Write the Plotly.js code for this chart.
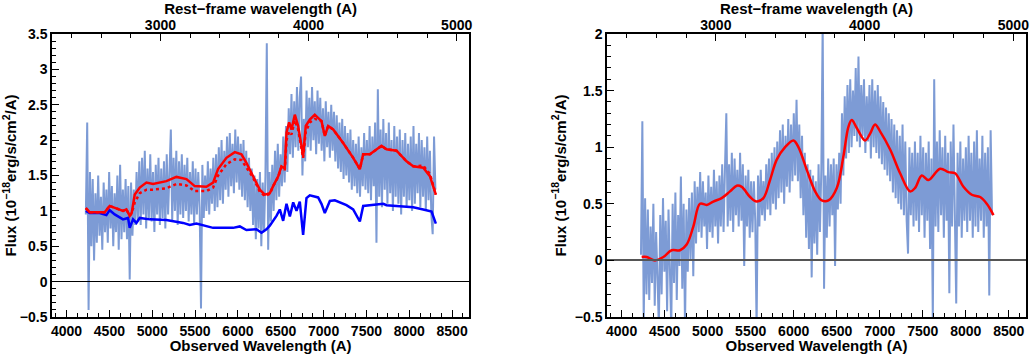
<!DOCTYPE html>
<html>
<head>
<meta charset="utf-8">
<script src="https://cdn.plot.ly/plotly-3.0.1.min.js"></script>
<style>
  html, body { margin: 0; padding: 0; background: #fff; }
  #chart { width: 1032px; height: 354px; }
</style>
</head>
<body>
<div id="chart"></div>
<script>
/* Спектр: сетка длин волн наблюдаемого спектра (A) */
var specStart = 4225;
var specStep = 16;

/* Левая панель: наблюдаемый поток (шумный спектр) */
var leftSpec = [
    0.95, 2.25, -0.40, 1.55, 0.50, 1.45, 0.30, 1.25, 0.55, 1.50,
    0.65, 1.20, 0.45, 1.40, 0.70, 1.30, 0.55, 1.55, 0.75, 1.35,
    0.50, 1.25, 0.70, 1.50, 0.45, 1.65, 0.60, 1.30, 0.70, 1.45,
    0.60, 1.35, 0.03, 1.40, 0.65, 1.30, 0.80, 1.55, 0.85, 1.70,
    0.80, 1.75, 0.95, 1.85, 0.75, 1.60, 0.90, 1.80, 0.85, 1.55,
    0.70, 1.65, 0.95, 1.75, 0.80, 1.60, 0.90, 1.70, 0.75, 1.80,
    0.95, 1.65, 2.15, 0.85, 1.75, 1.00, 1.85, 0.80, 1.70, 0.95,
    1.80, 0.90, 1.65, 1.00, 1.75, 0.85, 1.55, 0.95, 1.70, 0.80,
    1.60, 0.95, 1.55, 1.05, -0.38, 1.65, 0.90, 1.50, 1.00, 1.70,
    0.95, 1.60, 1.10, 1.75, 1.00, 1.80, 1.05, 1.90, 1.15, 2.00,
    1.10, 1.85, 1.30, 2.05, 1.20, 2.10, 1.35, 1.95, 1.25, 2.15,
    1.40, 2.05, 1.30, 1.95, 1.20, 2.00, 1.15, 1.85, 1.05, 1.75,
    1.00, 1.60, 0.80, 1.50, 0.60, 1.45, 0.75, 1.55, 0.50, 1.40,
    0.70, 1.50, 3.37, 0.45, 1.55, 0.85, 1.65, 1.00, 1.85, 1.15,
    1.95, 1.20, 1.80, 1.35, 2.05, 1.40, 2.20, 1.55, 2.45, 1.80,
    2.65, 1.75, 2.55, 1.90, 2.75, 1.85, 2.60, 2.90, 1.50, 2.30,
    1.70, 2.70, 1.90, 2.60, 1.85, 2.75, 2.00, 2.55, 1.80, 2.70,
    1.95, 2.60, 1.85, 2.45, 1.70, 2.55, 1.90, 2.40, 1.75, 2.50,
    1.85, 2.40, 1.70, 2.35, 1.60, 2.25, 1.55, 2.30, 1.45, 2.20,
    1.50, 2.10, 1.40, 2.15, 1.30, 2.00, 1.35, 1.95, 1.25, 2.05,
    1.20, 1.90, 1.35, 2.10, 1.30, 2.00, 1.25, 2.20, 1.15, 2.05,
    1.35, 2.25, 0.55, 2.72, 1.20, 2.15, 1.05, 2.30, 1.30, 2.10,
    1.10, 2.25, 1.25, 2.00, 1.00, 2.20, 1.20, 2.05, 1.10, 2.15,
    0.95, 2.00, 1.20, 2.10, 1.05, 1.95, 1.15, 2.05, 1.00, 2.20,
    1.10, 1.95, 1.25, 2.10, 1.05, 2.00, 1.20, 1.90, 1.00, 2.05,
    1.15, 1.85, 0.95, 0.67, 2.05, 1.30
];

/* Левая панель: модель (сплошная и пунктирная) и звёздная компонента */
var leftModelWave = [
    4225, 4270, 4348, 4445, 4503, 4581, 4659, 4698, 4737, 4760,
    4796, 4854, 4932, 5009, 5165, 5282, 5399, 5496, 5632, 5710,
    5768, 5866, 5963, 6041, 6099, 6177, 6255, 6314, 6372, 6411,
    6470, 6508, 6547, 6567, 6598, 6625, 6664, 6703, 6761, 6792,
    6839, 6897, 6975, 7014, 7053, 7112, 7228, 7345, 7423, 7462,
    7540, 7676, 7734, 7851, 7968, 8046, 8163, 8241, 8310
];
var leftModel = [
    1.04, 0.98, 0.98, 0.98, 1.07, 1.03, 1.00, 1.02, 0.93, 0.97,
    1.23, 1.33, 1.40, 1.38, 1.42, 1.48, 1.45, 1.35, 1.34, 1.40,
    1.59, 1.75, 1.83, 1.80, 1.68, 1.49, 1.30, 1.23, 1.25, 1.35,
    1.49, 1.63, 1.60, 2.11, 2.25, 2.15, 2.36, 2.20, 1.78, 2.20,
    2.29, 2.36, 2.27, 2.06, 2.20, 2.15, 1.96, 1.75, 1.59, 1.80,
    1.80, 1.92, 1.87, 1.85, 1.70, 1.63, 1.61, 1.49, 1.23
];
var leftModelDot = [
    1.04, 0.98, 0.98, 0.98, 1.07, 1.03, 1.00, 1.02, 0.93, 0.97,
    1.12, 1.25, 1.30, 1.30, 1.32, 1.38, 1.36, 1.28, 1.28, 1.33,
    1.50, 1.66, 1.73, 1.72, 1.62, 1.47, 1.27, 1.21, 1.24, 1.35,
    1.48, 1.62, 1.58, 2.00, 2.12, 2.08, 2.28, 2.15, 1.75, 2.12,
    2.25, 2.30, 2.27, 2.06, 2.20, 2.15, 1.96, 1.75, 1.59, 1.80,
    1.80, 1.92, 1.87, 1.85, 1.70, 1.63, 1.64, 1.52, 1.23
];
var leftStarWave = [
    4225, 4270, 4387, 4465, 4503, 4562, 4659, 4718, 4737, 4776,
    4815, 4854, 4970, 5165, 5360, 5438, 5516, 5710, 5944, 6022,
    6099, 6216, 6275, 6333, 6372, 6450, 6489, 6528, 6567, 6606,
    6645, 6684, 6722, 6761, 6800, 6839, 6936, 6975, 7014, 7073,
    7131, 7267, 7345, 7423, 7462, 7540, 7696, 7734, 7890, 8046,
    8163, 8260, 8310
];
var leftStar = [
    1.00, 0.97, 0.97, 0.94, 1.01, 0.95, 0.88, 0.90, 0.76, 0.88,
    0.83, 0.90, 0.88, 0.87, 0.83, 0.80, 0.82, 0.76, 0.76, 0.78,
    0.73, 0.74, 0.69, 0.74, 0.79, 0.93, 1.02, 0.86, 1.10, 0.92,
    1.12, 1.00, 1.13, 0.66, 1.18, 1.22, 1.19, 1.10, 0.97, 1.14,
    1.15, 1.08, 1.02, 0.85, 1.07, 1.08, 1.10, 1.08, 1.07, 1.05,
    1.02, 0.99, 0.82
];

/* Правая панель: поток после вычитания звёздной компоненты */
var rightSpec = [
    0.05, 1.23, -0.55, 0.55, -0.30, 0.45, -0.35, 0.30, -0.20, 0.50,
    -0.40, 0.25, -0.15, -0.60, 0.40, -0.30, 0.55, -0.10, 0.35, -0.45,
    0.45, -0.25, -0.60, 0.50, -0.20, 0.60, -0.35, 0.40, -0.05, 0.74,
    -0.25, 0.50, -0.60, 0.45, -0.10, 0.55, 0.00, 0.60, -0.14, 0.70,
    0.15, 0.65, 0.25, 0.78, 0.20, 0.70, 0.30, 0.60, 0.10, 0.75,
    0.25, 0.65, 0.20, 0.80, 0.30, 0.70, 0.15, 0.75, 0.30, 0.85,
    0.25, 0.80, 1.30, 0.30, 0.85, 0.35, 0.95, 0.25, 0.90, 0.40,
    0.80, 0.30, 0.95, 0.35, 0.85, -0.05, 0.75, 0.30, 0.80, 0.20,
    0.70, 0.25, 0.70, 0.35, -0.60, 0.75, 0.30, 0.80, 0.40, 0.70,
    0.35, 0.85, 0.45, 0.90, 0.40, 0.95, 0.50, 1.00, 0.45, 1.05,
    0.55, 1.15, 0.60, 1.20, 0.50, 1.10, 0.65, 1.25, 0.60, 1.20,
    0.70, 1.30, 0.75, 1.42, 0.70, 1.20, 0.55, 1.10, 0.40, 0.95,
    0.20, 0.85, 0.10, 0.80, -0.15, 0.75, 0.15, 0.70, 0.05, 0.85,
    0.25, 0.80, 2.10, -0.25, 0.75, 0.20, 0.90, 0.30, 0.85, 0.40,
    0.90, -0.05, 0.85, 0.45, 0.95, 0.50, 1.30, 0.75, 1.45, 0.90,
    1.55, 0.95, 1.60, 1.00, 1.50, 1.10, 1.70, 1.05, 1.80, 1.00,
    1.55, 1.10, 1.60, 0.95, 1.45, 1.05, 1.55, 0.90, 1.60, 1.00,
    1.50, 0.95, 1.55, 0.90, 1.45, 0.85, 1.40, 0.80, 1.35, 0.75,
    1.30, 0.70, 1.25, 0.60, 1.20, 0.55, 1.15, 0.50, 1.10, 0.45,
    1.20, 0.40, 1.05, 0.35, 0.06, 1.00, 0.40, 0.95, 0.30, 1.05,
    0.35, 0.95, 0.25, 1.10, 0.40, 1.00, 0.20, 0.95, 0.35, 1.05,
    0.10, 0.90, -0.55, 1.60, 0.30, 1.05, 0.25, 1.15, 0.40, 1.00,
    0.20, 1.10, 0.35, 0.95, -0.29, 1.05, 0.30, 1.20, 0.25, -0.38,
    0.95, 0.30, 1.05, 0.20, 0.90, 0.35, 1.00, 0.25, 1.10, 0.35,
    0.95, 0.20, 1.05, 0.30, 1.15, 0.25, 0.90, 0.35, 1.10, 0.20,
    0.95, 0.30, 1.00, -0.31, 1.15, 0.40
];

/* Правая панель: сглаженная модель */
var rightModelWave = [
    4233, 4291, 4388, 4485, 4582, 4679, 4756, 4834, 4911, 4989,
    5066, 5163, 5260, 5338, 5396, 5493, 5570, 5648, 5725, 5803,
    5900, 5997, 6055, 6152, 6249, 6326, 6404, 6501, 6578, 6636,
    6675, 6733, 6830, 6888, 6946, 7004, 7121, 7237, 7353, 7411,
    7489, 7566, 7702, 7799, 7876, 7973, 8070, 8167, 8244, 8322
];
var rightModel = [
    0.03, 0.03, 0.00, 0.03, 0.09, 0.09, 0.14, 0.30, 0.50, 0.49,
    0.52, 0.55, 0.61, 0.66, 0.65, 0.56, 0.52, 0.55, 0.71, 0.89,
    1.00, 1.06, 1.00, 0.80, 0.61, 0.53, 0.53, 0.64, 0.92, 1.18,
    1.24, 1.17, 1.06, 1.12, 1.20, 1.14, 0.98, 0.77, 0.61, 0.64,
    0.75, 0.71, 0.81, 0.78, 0.77, 0.65, 0.58, 0.56, 0.50, 0.40
];

/* Оси: наблюдаемая и собственная длина волны */
var obsRange = [3830, 8700];
var restRange = [2268, 5085];

var specColor = '#7d9bd5';
var fontFamily = 'Liberation Sans, Arial, Helvetica, sans-serif';

function makeWave(n) {
    var w = [];
    for (var i = 0; i < n; i++) w.push(specStart + specStep * i);
    return w;
}

function bottomAxis(domain, anchor) {
    return {
        domain: domain,
        anchor: anchor,
        range: obsRange,
        showline: true, linecolor: 'black', linewidth: 1.5,
        ticks: 'inside', ticklen: 7, tickwidth: 1.2, tickcolor: 'black',
        tick0: 4000, dtick: 500,
        minor: { ticks: 'inside', ticklen: 4, dtick: 125, tick0: 4000, tickcolor: 'black', tickwidth: 1 },
        showgrid: false, zeroline: false,
        tickfont: { family: fontFamily, size: 14, color: 'black', weight: 'bold' },
        title: { text: 'Observed Wavelength (A)', standoff: 2,
                 font: { family: fontFamily, size: 15, color: 'black', weight: 'bold' } }
    };
}

function topAxis(over, anchor) {
    return {
        overlaying: over,
        anchor: anchor,
        side: 'top',
        range: restRange,
        showline: true, linecolor: 'black', linewidth: 1.5,
        ticks: 'inside', ticklen: 7, tickwidth: 1.2, tickcolor: 'black',
        tick0: 3000, dtick: 1000,
        minor: { ticks: 'inside', ticklen: 4, dtick: 200, tick0: 3000, tickcolor: 'black', tickwidth: 1 },
        showgrid: false, zeroline: false,
        ticklabelstandoff: -3,
        tickfont: { family: fontFamily, size: 14, color: 'black', weight: 'bold' },
        title: { text: 'Rest\u2212frame wavelength (A)', standoff: 0,
                 font: { family: fontFamily, size: 15, color: 'black', weight: 'bold' } }
    };
}

function fluxAxis(anchor, range, zcolor, zwidth) {
    return {
        anchor: anchor,
        domain: [0, 1],
        range: range,
        showline: true, mirror: true, linecolor: 'black', linewidth: 1.5,
        ticks: 'inside', ticklen: 7, tickwidth: 1.2, tickcolor: 'black',
        tick0: 0, dtick: 0.5,
        minor: { ticks: 'inside', ticklen: 4, dtick: 0.1, tickcolor: 'black', tickwidth: 1 },
        showgrid: false,
        zeroline: true, zerolinecolor: zcolor, zerolinewidth: zwidth,
        zerolinelayer: 'above traces',
        tickfont: { family: fontFamily, size: 14, color: 'black', weight: 'bold' },
        title: { text: 'Flux (10<sup>\u221218</sup>erg/s/cm<sup>2</sup>/A)', standoff: 5,
                 font: { family: fontFamily, size: 15, color: 'black', weight: 'bold' } }
    };
}

var data = [
    /* левая панель */
    { x: makeWave(leftSpec.length), y: leftSpec, xaxis: 'x', yaxis: 'y', type: 'scatter', mode: 'lines',
      line: { color: specColor, width: 2 }, hoverinfo: 'skip' },
    { x: leftStarWave, y: leftStar, xaxis: 'x', yaxis: 'y', type: 'scatter', mode: 'lines',
      line: { color: '#0000ff', width: 2.5 } },
    { x: leftModelWave, y: leftModelDot, xaxis: 'x', yaxis: 'y', type: 'scatter', mode: 'lines',
      line: { color: '#ff0000', width: 2.5, dash: 'dot' } },
    { x: leftModelWave, y: leftModel, xaxis: 'x', yaxis: 'y', type: 'scatter', mode: 'lines',
      line: { color: '#ff0000', width: 2.5 } },
    { x: [], y: [], xaxis: 'x3', yaxis: 'y', type: 'scatter', mode: 'lines', hoverinfo: 'skip' },

    /* правая панель */
    { x: makeWave(rightSpec.length), y: rightSpec, xaxis: 'x2', yaxis: 'y2', type: 'scatter', mode: 'lines',
      line: { color: specColor, width: 2 }, hoverinfo: 'skip' },
    { x: rightModelWave, y: rightModel, xaxis: 'x2', yaxis: 'y2', type: 'scatter', mode: 'lines',
      line: { color: '#ff0000', width: 2.5, shape: 'spline', smoothing: 1 } },
    { x: [], y: [], xaxis: 'x4', yaxis: 'y2', type: 'scatter', mode: 'lines', hoverinfo: 'skip' }
];

var layout =
{
    width: 1032,
    height: 354,
    margin: { l: 52, r: 6, t: 34, b: 37 },
    showlegend: false,
    paper_bgcolor: 'white',
    plot_bgcolor: 'white',
    xaxis: bottomAxis([0, 0.4284], 'y'),
    xaxis2: bottomAxis([0.5698, 1], 'y2'),
    xaxis3: topAxis('x', 'y'),
    xaxis4: topAxis('x2', 'y2'),
    yaxis: fluxAxis('x', [-0.5, 3.5], 'black', 1),
    yaxis2: fluxAxis('x2', [-0.5, 2], '#555555', 2)
}

var config =
{
    displayModeBar: false,
    responsive: false
}

Plotly.newPlot('chart', data, layout, config);
</script>
</body>
</html>
